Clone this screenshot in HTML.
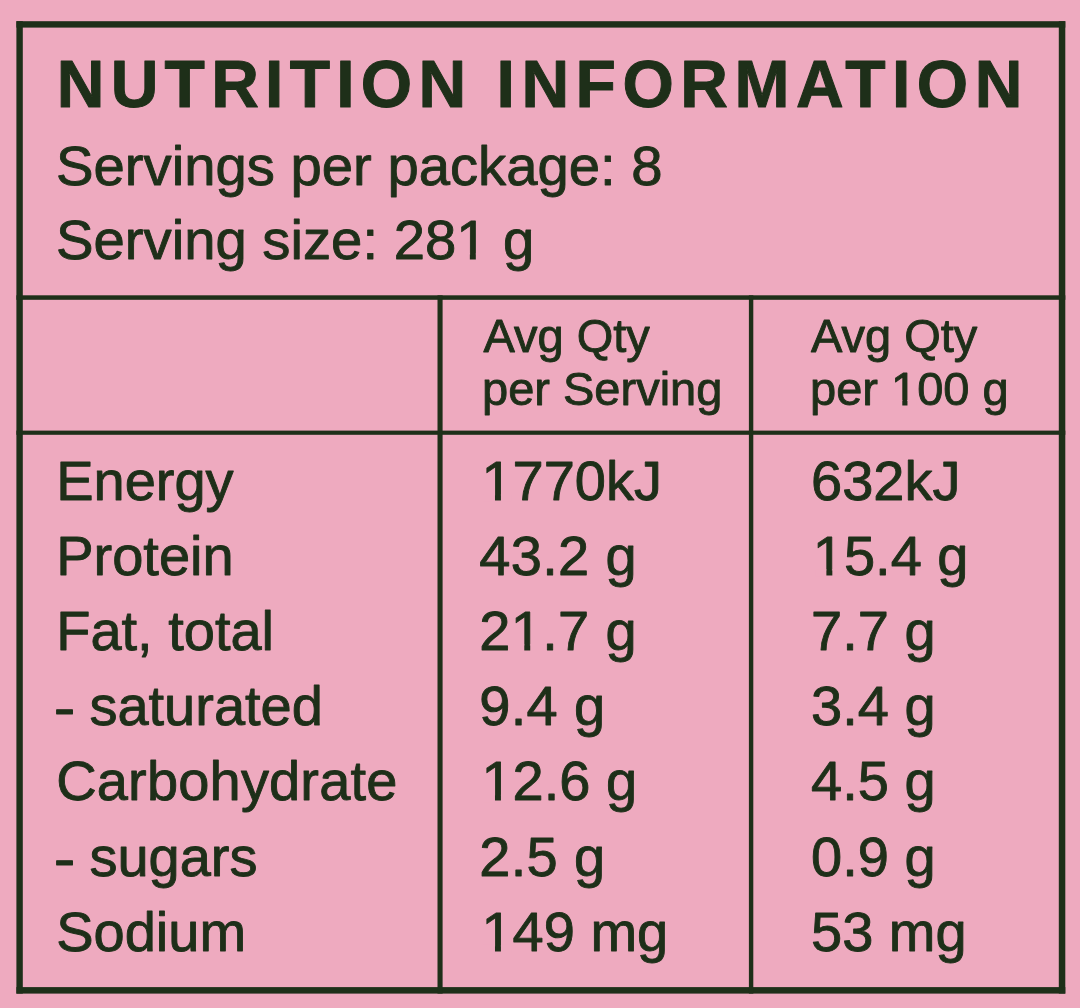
<!DOCTYPE html>
<html lang="en"><head><meta charset="utf-8"><title>Nutrition Information</title>
<style>
html,body{margin:0;padding:0;background:#eeaabf;}
body{width:1080px;height:1008px;overflow:hidden;}
svg{display:block;}
text{font-family:"Liberation Sans",Arial,Helvetica,sans-serif;fill:#1e2f19;stroke:#1e2f19;stroke-width:0.9px;stroke-linejoin:round;white-space:pre;}
text.b{font-weight:bold;stroke-width:1px;}
</style></head><body>
<svg width="1080" height="1008" viewBox="0 0 1080 1008">
<rect width="1080" height="1008" fill="#eeaabf"/>
<g>
<g fill="#1e2f19">
<rect x="16.4" y="21.2" width="6.4" height="972.4"/>
<rect x="1058.8" y="21.2" width="6.5" height="972.4"/>
<rect x="16.4" y="21.2" width="1048.9" height="6.4"/>
<rect x="16.4" y="987.1" width="1048.9" height="6.5"/>
<rect x="16.4" y="295.3" width="1048.9" height="4.5"/>
<rect x="16.4" y="430.6" width="1048.9" height="4.2"/>
<rect x="437.5" y="295.3" width="5.1" height="698.3"/>
<rect x="748.9" y="295.3" width="4.4" height="698.3"/>
</g>
<g>
<text y="107" font-size="66" class="b"><tspan x="56.8" letter-spacing="6.25">NUTRITION</tspan> <tspan x="496.6" letter-spacing="6.5">INFORMATION</tspan></text>
<text x="56" y="184.6" font-size="56.25" >Servings per package: 8</text>
<text x="56" y="259.1" font-size="56.25" >Serving size: 281 g</text>
<text x="483.5" y="352.3" font-size="47" >Avg Qty</text>
<text x="482" y="405.1" font-size="47" >per Serving</text>
<text x="811" y="352.3" font-size="47" >Avg Qty</text>
<text x="810" y="405.1" font-size="47" >per 100 g</text>
<text x="56.2" y="499.8" font-size="56" >Energy</text>
<text x="481.4" y="499.8" font-size="56" >1770kJ</text>
<text x="811" y="499.8" font-size="56" >632kJ</text>
<text x="56.2" y="575.0" font-size="56" >Protein</text>
<text x="479.2" y="575.0" font-size="56" letter-spacing="0.35">43.2 g</text>
<text x="812.8" y="575.0" font-size="56" >15.4 g</text>
<text x="56.2" y="650.1" font-size="56" >Fat, total</text>
<text x="479.2" y="650.1" font-size="56" letter-spacing="0.35">21.7 g</text>
<text x="811" y="650.1" font-size="56" >7.7 g</text>
<text font-size="56"><tspan x="53.8" y="727.4" textLength="21.6" lengthAdjust="spacingAndGlyphs">-</tspan> <tspan x="89.4" y="725.2">saturated</tspan></text>
<text x="479.2" y="725.2" font-size="56" letter-spacing="0.35">9.4 g</text>
<text x="811" y="725.2" font-size="56" >3.4 g</text>
<text x="56.2" y="800.4" font-size="56" letter-spacing="0.17">Carbohydrate</text>
<text x="481.4" y="800.4" font-size="56" >12.6 g</text>
<text x="811" y="800.4" font-size="56" >4.5 g</text>
<text font-size="56"><tspan x="53.8" y="877.7" textLength="21.6" lengthAdjust="spacingAndGlyphs">-</tspan> <tspan x="89.4" y="875.5">sugars</tspan></text>
<text x="479.2" y="875.5" font-size="56" letter-spacing="0.35">2.5 g</text>
<text x="811" y="875.5" font-size="56" >0.9 g</text>
<text x="56.2" y="950.7" font-size="56" >Sodium</text>
<text x="481.4" y="950.7" font-size="56" >149 mg</text>
<text x="811" y="950.7" font-size="56" >53 mg</text>
</g>
<g fill="#eeaabf">
<rect x="458.69" y="253.3" width="11.16" height="7.6"/>
<rect x="475.82" y="253.3" width="10.72" height="7.6"/>
<rect x="892.76" y="399.99" width="9.54" height="6.91"/>
<rect x="907.46" y="399.99" width="9.17" height="6.91"/>
<rect x="483.87" y="494.02" width="11.11" height="7.58"/>
<rect x="500.93" y="494.02" width="10.68" height="7.58"/>
<rect x="815.27" y="569.22" width="11.11" height="7.58"/>
<rect x="832.33" y="569.22" width="10.68" height="7.58"/>
<rect x="513.15" y="644.32" width="11.12" height="7.58"/>
<rect x="530.22" y="644.32" width="10.67" height="7.58"/>
<rect x="483.87" y="794.62" width="11.11" height="7.58"/>
<rect x="500.93" y="794.62" width="10.68" height="7.58"/>
<rect x="483.87" y="944.92" width="11.11" height="7.58"/>
<rect x="500.93" y="944.92" width="10.68" height="7.58"/>
</g>
</g>
</svg>
</body></html>
